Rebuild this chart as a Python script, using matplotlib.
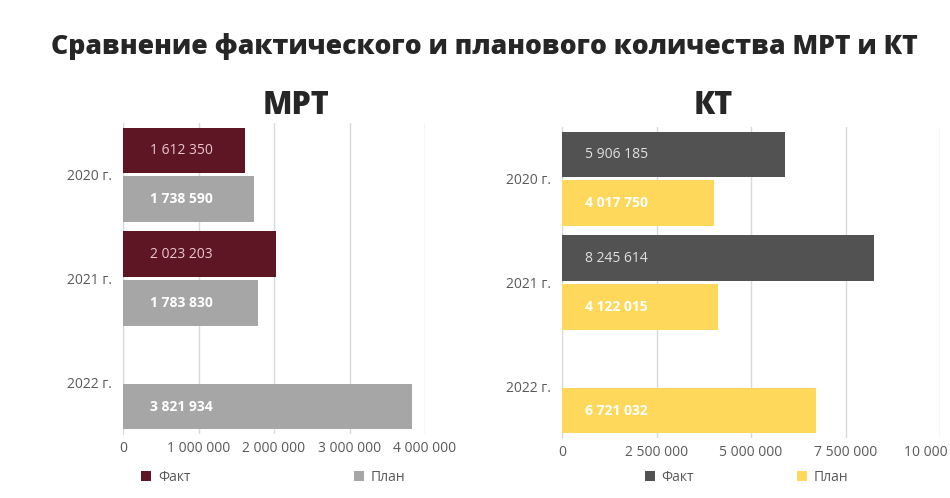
import matplotlib
matplotlib.use('Agg')
import matplotlib.pyplot as plt
import numpy as np

plt.rcParams['font.family'] = ['Open Sans', 'DejaVu Sans']

years = ['2020 г.', '2021 г.', '2022 г.']
mrt_fact = [1612350, 2023203, 0]
mrt_plan = [1738590, 1783830, 3821934]
kt_fact = [5906185, 8245614, 0]
kt_plan = [4017750, 4122015, 6721032]

mrt_ticks = [0, 1000000, 2000000, 3000000, 4000000]
kt_ticks = [0, 2500000, 5000000, 7500000, 10000000]

W, H = 950, 498
fig = plt.figure(figsize=(W / 100, H / 100), dpi=100)
fig.patch.set_facecolor('white')


def fmt(v):
    return f'{v:,}'.replace(',', ' ')


def px_axes(x0, y0, x1, y1):
    return fig.add_axes([x0 / W, 1 - y1 / H, (x1 - x0) / W, (y1 - y0) / H])


def draw(ax, fact, plan, ticks, c_fact, c_plan, fact_txt, label_dx):
    y = np.arange(len(years))
    h = 0.44
    off = 0.235
    ax.barh(y - off, fact, height=h, color=c_fact, label='Факт', zorder=3)
    ax.barh(y + off, plan, height=h, color=c_plan, label='План', zorder=3)
    for i in range(len(years)):
        if fact[i]:
            ax.annotate(fmt(fact[i]), (0, y[i] - off), xytext=(label_dx, 0),
                        textcoords='offset pixels', ha='left', va='center',
                        fontsize=10, color=fact_txt, zorder=4)
        if plan[i]:
            ax.annotate(fmt(plan[i]), (0, y[i] + off), xytext=(label_dx, 0),
                        textcoords='offset pixels', ha='left', va='center',
                        fontsize=10, color='white', fontweight='bold', zorder=4)
    ax.set_ylim(2.5, -0.5)
    ax.set_xlim(ticks[0], ticks[-1])
    ax.set_yticks(y)
    ax.set_yticklabels(years)
    ax.set_xticks(ticks)
    ax.set_xticklabels([fmt(t) for t in ticks])
    ax.tick_params(length=0, labelsize=10, labelcolor='#595959')
    ax.tick_params(axis='y', pad=8)
    ax.tick_params(axis='x', pad=5)
    ax.xaxis.grid(True, color='#d9d9d9', lw=1)
    ax.set_axisbelow(True)
    for s in ['top', 'right', 'bottom']:
        ax.spines[s].set_visible(False)
    ax.spines['left'].set_color('#d9d9d9')


ax1 = px_axes(123, 123, 425, 434)
draw(ax1, mrt_fact, mrt_plan, mrt_ticks, '#5e1625', '#a6a6a6', '#e9c6cc', 27)
ax2 = px_axes(562, 127, 940, 438)
draw(ax2, kt_fact, kt_plan, kt_ticks, '#525252', '#fdd85a', '#e0e0e0', 23)

fig.text(484 / W, 1 - 47 / H, 'Сравнение фактического и планового количества МРТ и КТ',
         ha='center', va='center', fontsize=19.2, fontweight='heavy', color='#262626')
fig.text(296 / W, 1 - 106 / H, 'МРТ', ha='center', va='center',
         fontsize=22, fontweight='heavy', color='#262626')
fig.text(713 / W, 1 - 106 / H, 'КТ', ha='center', va='center',
         fontsize=22, fontweight='heavy', color='#262626')

for ax, cx, cs in [(ax1, 273.5, 11.8), (ax2, 746.5, 7.4)]:
    ax.legend(loc='center', bbox_to_anchor=(cx / W, 1 - 477 / H),
              bbox_transform=fig.transFigure, ncol=2, frameon=False,
              fontsize=10, labelcolor='#595959', handlelength=0.7,
              handleheight=0.7, handletextpad=0.5, columnspacing=cs)

fig.savefig('out.png', dpi=100)
